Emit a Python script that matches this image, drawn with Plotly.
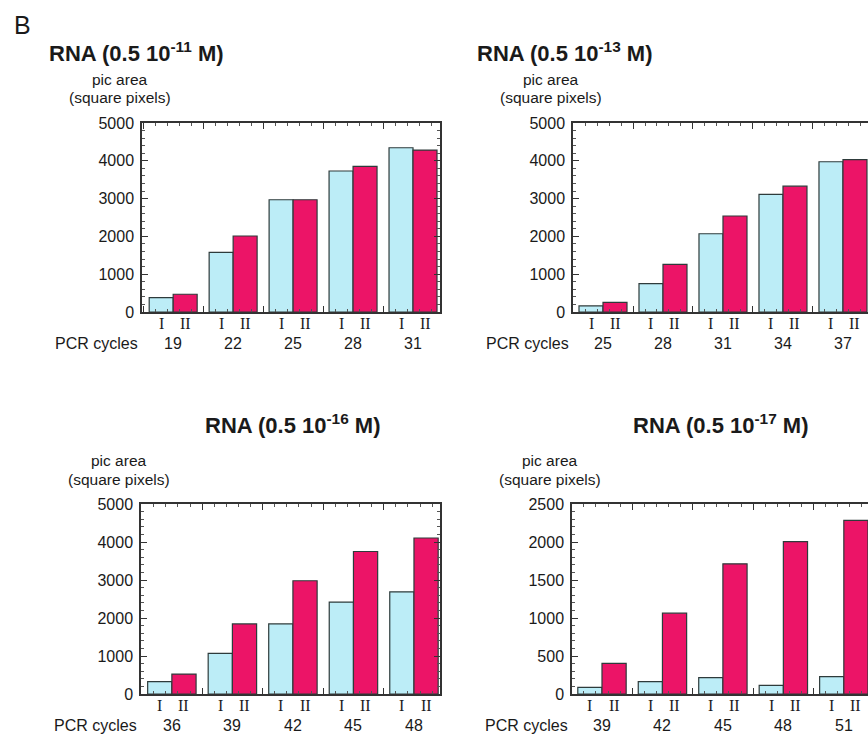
import plotly.graph_objects as go

# ---------------- data ----------------
cycles_a = [19, 22, 25, 28, 31]
vals_a_I = [380, 1575, 2970, 3730, 4345]
vals_a_II = [470, 2010, 2970, 3850, 4285]

cycles_b = [25, 28, 31, 34, 37]
vals_b_I = [160, 750, 2070, 3110, 3975]
vals_b_II = [255, 1260, 2540, 3330, 4030]

cycles_c = [36, 39, 42, 45, 48]
vals_c_I = [325, 1070, 1845, 2420, 2690]
vals_c_II = [525, 1845, 2980, 3750, 4105]

cycles_d = [39, 42, 45, 48, 51]
vals_d_I = [88, 163, 215, 114, 228]
vals_d_II = [404, 1063, 1713, 2004, 2285]

titles = ["RNA (0.5 10<sup>-11</sup> M)", "RNA (0.5 10<sup>-13</sup> M)",
          "RNA (0.5 10<sup>-16</sup> M)", "RNA (0.5 10<sup>-17</sup> M)"]
series_names = ["I", "II"]
y_max = [5000, 5000, 5000, 2500]
y_dtick = [1000, 1000, 1000, 500]

W, H = 868, 735
COL_I = "#bcedf7"
COL_II = "#ec1467"
EDGE = "#2e3b3b"
TXT = "#1a1a1a"
SANS = "Liberation Sans, Arial, sans-serif"
SERIF = "Liberation Serif, Times New Roman, serif"

# panel geometry (pixels): left, right, top, bottom, x-range
panels = [
    dict(l=142, r=440, t=123, b=312, rng=[-0.52, 4.45], right_cut=False),
    dict(l=573, r=868, t=123, b=312, rng=[-0.50, 4.417], right_cut=True),
    dict(l=141, r=440, t=504, b=694, rng=[-0.51, 4.43], right_cut=False),
    dict(l=572, r=868, t=504, b=694, rng=[-0.496, 4.40], right_cut=True),
]
data = [(cycles_a, vals_a_I, vals_a_II), (cycles_b, vals_b_I, vals_b_II),
        (cycles_c, vals_c_I, vals_c_II), (cycles_d, vals_d_I, vals_d_II)]

fig = go.Figure()
annotations = []
layout_axes = {}

for i, (p, (cyc, vI, vII)) in enumerate(zip(panels, data)):
    n = i + 1
    xa = "x" if n == 1 else f"x{n}"
    ya = "y" if n == 1 else f"y{n}"
    pos = list(range(len(cyc)))
    fig.add_trace(go.Bar(x=pos, y=vI, name=series_names[0], xaxis=xa, yaxis=ya,
                         offsetgroup="I", marker=dict(color=COL_I, line=dict(color=EDGE, width=1.2)),
                         showlegend=False, hoverinfo="skip"))
    fig.add_trace(go.Bar(x=pos, y=vII, name=series_names[1], xaxis=xa, yaxis=ya,
                         offsetgroup="II", marker=dict(color=COL_II, line=dict(color=EDGE, width=1.2)),
                         showlegend=False, hoverinfo="skip"))
    xd = [p["l"] / W, min(1.0, p["r"] / W)]
    yd = [1 - p["b"] / H, 1 - p["t"] / H]
    xkey = "xaxis" if n == 1 else f"xaxis{n}"
    ykey = "yaxis" if n == 1 else f"yaxis{n}"
    layout_axes[xkey] = dict(
        domain=xd, anchor=ya, range=p["rng"], showgrid=False, zeroline=False,
        showline=True, linecolor="#333", linewidth=1.5, mirror="ticks",
        ticks="inside", tick0=0.5, dtick=1, ticklen=6, tickcolor="#333", tickwidth=1.2,
        showticklabels=False, automargin=False,
        minor=dict(ticks="inside", tick0=0.5, dtick=0.2, ticklen=3, tickcolor="#555", tickwidth=1),
    )
    layout_axes[ykey] = dict(
        domain=yd, anchor=xa, range=[0, y_max[i]], showgrid=False, zeroline=False,
        showline=True, linecolor="#333", linewidth=1.5,
        mirror=False if p["right_cut"] else "ticks",
        ticks="inside", dtick=y_dtick[i], ticklen=6, tickcolor="#333", tickwidth=1.2,
        tickfont=dict(family=SANS, size=16, color=TXT), ticklabelstandoff=3, automargin=False,
        minor=dict(ticks="inside", dtick=y_dtick[i] / 5, ticklen=3, tickcolor="#555", tickwidth=1),
    )
    # I / II labels under each bar and cycle numbers
    ylab = 1 - (p["b"] + 11) / H
    ynum = 1 - (p["b"] + 31) / H
    for k, c in enumerate(cyc):
        annotations.append(dict(x=k - 0.2, y=ylab, xref=xa, yref="paper", text=series_names[0],
                                showarrow=False, font=dict(family=SERIF, size=16, color=TXT),
                                xanchor="center", yanchor="middle"))
        annotations.append(dict(x=k + 0.2, y=ylab, xref=xa, yref="paper", text=series_names[1],
                                showarrow=False, font=dict(family=SERIF, size=16, color=TXT),
                                xanchor="center", yanchor="middle"))
        annotations.append(dict(x=k, y=ynum, xref=xa, yref="paper", text=str(c),
                                showarrow=False, font=dict(family=SANS, size=16, color=TXT),
                                xanchor="center", yanchor="middle"))
    annotations.append(dict(x=(p["l"] - 2) / W, y=ynum, xref="paper", yref="paper", text="PCR cycles",
                            showarrow=False, font=dict(family=SANS, size=16, color=TXT),
                            xanchor="right", yanchor="middle"))
    # y axis label
    ycx = p["l"] - 22
    annotations.append(dict(x=ycx / W, y=1 - (p["t"] - 44) / H, xref="paper", yref="paper",
                            text="pic area", showarrow=False,
                            font=dict(family=SANS, size=15.5, color=TXT), xanchor="center", yanchor="middle"))
    annotations.append(dict(x=ycx / W, y=1 - (p["t"] - 25) / H, xref="paper", yref="paper",
                            text="(square pixels)", showarrow=False,
                            font=dict(family=SANS, size=15.5, color=TXT), xanchor="center", yanchor="middle"))

# titles
title_pos = [(47, 52, "left"), (475, 52, "left"), (292, 424, "center"), (720, 424, "center")]
for t, (tx, ty, anc) in zip(titles, title_pos):
    annotations.append(dict(x=tx / W, y=1 - ty / H, xref="paper", yref="paper", text=f"<b>{t}</b>",
                            showarrow=False, font=dict(family=SANS, size=22, color=TXT),
                            xanchor=anc, yanchor="middle"))
annotations.append(dict(x=12 / W, y=1 - 25 / H, xref="paper", yref="paper", text="B",
                        showarrow=False, font=dict(family=SANS, size=25, color=TXT),
                        xanchor="left", yanchor="middle"))

fig.update_layout(
    width=W, height=H, margin=dict(l=0, r=0, t=0, b=0, autoexpand=False),
    paper_bgcolor="white", plot_bgcolor="white",
    barmode="group", bargap=0.2, bargroupgap=0,
    annotations=annotations, **layout_axes,
)
fig.write_html("out.html", config={"displayModeBar": False, "responsive": False},
               post_script="document.body.style.margin='0';document.body.style.overflow='hidden';")
